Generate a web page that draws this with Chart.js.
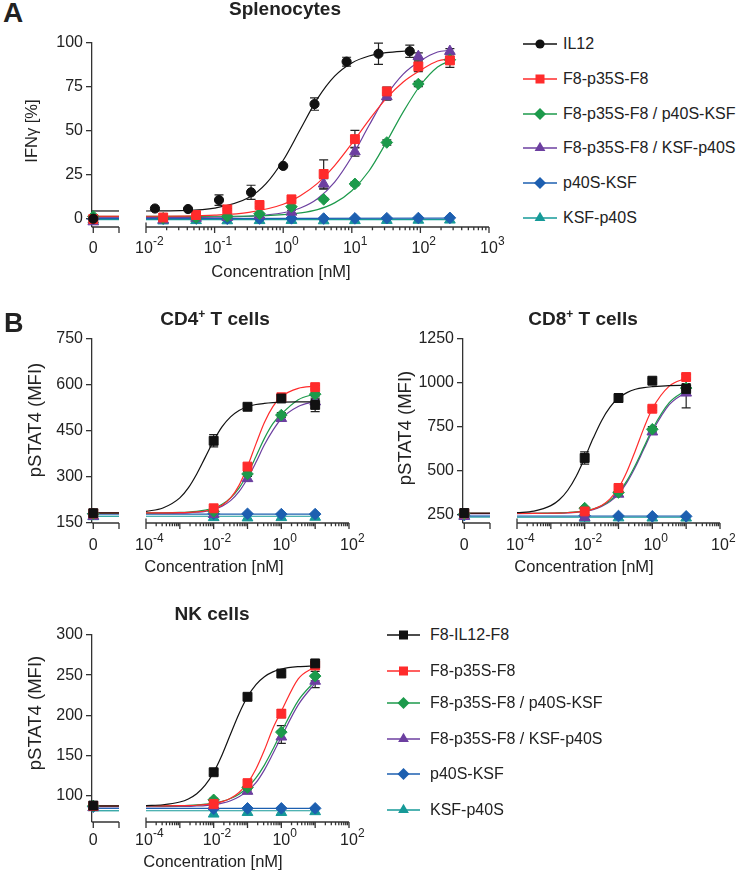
<!DOCTYPE html>
<html>
<head>
<meta charset="utf-8">
<script src="https://cdn.jsdelivr.net/npm/chart.js@4.4.0/dist/chart.umd.min.js"></script>
<style>
  body { margin: 0; background: #fff; }
  #page { position: relative; width: 745px; height: 874px; overflow: hidden;
          font-family: "Liberation Sans", Arial, Helvetica, sans-serif; color: #222; }
  #page canvas { position: absolute; }
  .txt { position: absolute; white-space: nowrap; line-height: 1; }
  .letter { font-weight: bold; }
  .ptitle { font-weight: bold; font-size: 19px; transform: translateX(-50%); }
  .ptitle sup { font-size: 12px; line-height: 0; vertical-align: 7px; }
  .xtitle { font-size: 16.5px; transform: translateX(-50%); }
  .ytitle { font-size: 16.5px; transform: translate(-50%, -50%) rotate(-90deg); }
  .ytitle.big { font-size: 18.5px; }
  .leg { position: absolute; height: 20px; display: flex; align-items: center; font-size: 16px; white-space: nowrap; }
</style>
</head>
<body>
<div id="page"></div>
<script>
// ::::: DATA :::::

// Panel A - splenocytes, IFNy [%]
const aConcIL12 = [0.0135, 0.041, 0.116, 0.34, 1.0, 2.86, 8.4, 24.5, 70];
const aConc = [0.0178, 0.0537, 0.153, 0.452, 1.32, 3.89, 11.1, 32.4, 93.3, 269];
const aIL12 = [6.0, 5.7, 10.8, 15.2, 30.2, 65.3, 89.4, 93.9, 95.3];
const aIL12Sem = [0.5, 0.5, 3.0, 4.0, 0.5, 3.5, 2.5, 6.0, 3.5];
const aP35 = [0.9, 2.3, 5.5, 8.0, 11.2, 25.6, 45.4, 72.5, 86.7, 90.1];
const aP35Sem = [0.3, 0.5, 0.5, 1.0, 1.0, 8.0, 5.0, 2.5, 3.0, 4.0];
const aP35P40KSF = [0.5, 0.8, 1.5, 3.0, 7.0, 11.2, 20.0, 43.5, 76.7, 90.5];
const aP35P40KSFSem = [0.3, 0.3, 0.3, 0.5, 0.5, 0.8, 1.0, 1.5, 1.5, 2.0];
const aP35KSFP40 = [-0.5, 0.5, 1.0, 2.0, 4.0, 20.0, 38.3, 69.6, 92.4, 95.3];
const aP35KSFP40Sem = [0.3, 0.3, 0.5, 0.5, 1.0, 3.0, 2.5, 2.0, 2.0, 1.5];
const aP40KSF = [0.2, 0.3, 0.2, 0.3, 0.4, 0.3, 0.4, 0.5, 0.6, 0.7];
const aKSFP40 = [-1.0, -0.8, -0.9, -0.8, -0.7, -0.9, -0.8, -0.7, -0.6, -0.5];
const aAtZero = [0.2, 0.0, 1.5, -1.5, 0.0, -0.5];   // x = 0, series order
const aBaseline = [4.6, 1.6, 1.5, 1.0, 0.3, -0.3];  // fit bottoms over the 0 segment
// fitted curves as they appear in the figure
const aFitConcIL12 = [0.01, 0.0316, 0.1, 0.316, 0.562, 1, 1.78, 3.16, 5.62, 10, 17.8, 31.6, 70];
const aFitIL12 = [4.6, 4.8, 6.2, 12.2, 20.1, 33.4, 51.0, 68.4, 81.2, 88.7, 92.6, 94.5, 95.6];
const aFitConc = [0.01, 0.0316, 0.1, 0.316, 1, 1.78, 3.16, 5.62, 10, 17.8, 31.6, 56.2, 100, 178, 269];
const aFitP35 = [1.6, 1.7, 2.2, 3.8, 8.4, 13.3, 20.3, 30.4, 42.9, 56.2, 68.4, 77.9, 84.5, 89.8, 91.0];
const aFitP35P40KSF = [1.5, 1.5, 1.6, 1.7, 2.5, 3.5, 5.4, 9.2, 16.1, 27.3, 43.4, 60.9, 76.0, 86.4, 89.9];
const aFitP35KSFP40 = [1.0, 1.0, 1.1, 1.6, 3.6, 6.3, 11.6, 21.0, 35.4, 53.1, 69.9, 82.3, 89.9, 94.9, 95.8];
const aFitFlatConc = [0.01, 269];
const aFitP40KSF = [0.3, 0.5];
const aFitKSFP40 = [-0.3, -0.3];
const aYTicks = [0, 25, 50, 75, 100];
const aDecades = [-2, -1, 0, 1, 2, 3];

// Panel B - pSTAT4 (MFI), shared concentrations
const bConc = [0.01, 0.1, 1, 10];
const bFitConc = [0.0001, 0.000316, 0.001, 0.00178, 0.00316, 0.00562, 0.01, 0.0178, 0.0316,
                  0.0562, 0.1, 0.178, 0.316, 0.562, 1, 3.16, 10];
const bFitFlatConc = [0.0001, 10];
const bDecades = [-4, -2, 0, 2];

// CD4+ T cells
const cd4F8IL12 = [418, 529, 556, 535];
const cd4F8IL12Sem = [20, 8, 8, 22];
const cd4P35 = [198, 334, 560, 593];
const cd4P35Sem = [5, 8, 6, 6];
const cd4P35P40KSF = [188, 310, 502, 570];
const cd4P35P40KSFSem = [4, 8, 8, 6];
const cd4P35KSFP40 = [178, 295, 491, 545];
const cd4P35KSFP40Sem = [4, 8, 8, 8];
const cd4P40KSF = [180, 180, 179, 179];
const cd4KSFP40 = [168, 167, 168, 169];
const cd4AtZero = [182, 181, 180, 172, 180, 171];
const cd4Baseline = [183, 183, 182, 181, 179, 172];
const cd4FitF8IL12 = [188, 199, 232, 264.5, 310, 364, 418, 464, 496, 516.8, 529, 536.3, 540, 542.4, 544, 545, 545];
const cd4FitP35 = [183, 183.2, 183.7, 184.5, 186, 189.1, 195.5, 207.7, 231.8, 272.8, 334, 408, 477.8, 529.7, 562, 589, 596];
const cd4FitP35P40KSF = [183.1, 183.4, 184.5, 185.7, 188, 191.9, 199, 211.3, 232, 264, 310, 367, 426, 474, 505, 552, 571];
const cd4FitP35KSFP40 = [181, 181.2, 182, 183, 185, 188, 194, 205, 223, 252, 295, 348, 405, 452, 490, 530, 546];
const cd4FitP40KSF = [179, 179];
const cd4FitKSFP40 = [172, 172];
const cd4YTicks = [150, 300, 450, 600, 750];

// CD8+ T cells
const cd8F8IL12 = [571, 913, 1012, 965];
const cd8F8IL12Sem = [35, 25, 12, 30];
const cd8P35 = [266, 400, 852, 1033];
const cd8P35Sem = [8, 10, 10, 15];
const cd8P35P40KSF = [285, 374, 735, 970];
const cd8P35P40KSFSem = [5, 10, 15, 15];
const cd8P35KSFP40 = [232, 365, 720, 942];
const cd8P35KSFP40Sem = [5, 10, 15, 85];
const cd8P40KSF = [242, 240, 238, 238];
const cd8KSFP40 = [228, 230, 229, 229];
const cd8AtZero = [257, 255, 252, 238, 245, 240];
const cd8Baseline = [256, 255, 255, 253, 240, 234];
const cd8FitF8IL12 = [259, 268, 299, 332.6, 387, 467, 571, 683, 784, 861, 913, 944, 963, 973, 978, 984, 985];
const cd8FitP35 = [255, 255, 256, 256.8, 258.5, 261.6, 268, 279, 300, 337.5, 400, 494, 614, 741.5, 852, 981, 1027];
const cd8FitP35P40KSF = [255, 255.5, 257, 257.7, 260, 263.4, 270, 280, 298, 328, 374, 442, 531, 633, 735, 887, 959];
const cd8FitP35KSFP40 = [254, 254.5, 255, 256, 258, 261, 266, 276, 294, 322, 365, 432, 520, 622, 722, 875, 948];
const cd8FitP40KSF = [240, 240];
const cd8FitKSFP40 = [234, 234];
const cd8YTicks = [250, 500, 750, 1000, 1250];

// NK cells
const nkF8IL12 = [129, 223, 252, 264.6];
const nkF8IL12Sem = [3, 3, 3, 3];
const nkP35 = [89.6, 115.4, 202, 262];
const nkP35Sem = [2, 3, 5, 4];
const nkP35P40KSF = [94.6, 110, 179, 248.8];
const nkP35P40KSFSem = [2, 3, 8, 6];
const nkP35KSFP40 = [87, 105.4, 173, 242.5];
const nkP35KSFP40Sem = [2, 3, 8, 8];
const nkP40KSF = [83.5, 84, 84, 84];
const nkKSFP40 = [77, 79, 79, 80];
const nkAtZero = [87.5, 87, 87, 85, 86, 85];
const nkBaseline = [87, 87, 87, 86, 84, 81];
const nkFitF8IL12 = [87.5, 88.5, 91.9, 95.7, 102.2, 112.8, 129, 150.9, 176.6, 201.9, 223, 238.2, 248, 254, 257.6, 260.6, 261.6];
const nkFitP35 = [87, 87.1, 87.3, 87.5, 87.9, 88.6, 90, 92.3, 96.5, 103.7, 115.4, 133, 156.6, 183.5, 205, 245.4, 260.6];
const nkFitP35P40KSF = [87.1, 87.2, 87.5, 87.8, 88.3, 89.2, 90.5, 92.8, 96.3, 101.7, 110, 121.9, 137.9, 157.6, 179, 218.3, 242.8];
const nkFitP35KSFP40 = [86, 86.1, 86.3, 86.5, 87, 87.5, 88.5, 90.5, 93.5, 98.5, 105.5, 116, 132, 152, 173, 213, 240];
const nkFitP40KSF = [84, 84];
const nkFitKSFP40 = [81, 81];
const nkYTicks = [100, 150, 200, 250, 300];

const legendA = ['IL12', 'F8-p35S-F8', 'F8-p35S-F8 / p40S-KSF', 'F8-p35S-F8 / KSF-p40S', 'p40S-KSF', 'KSF-p40S'];
const legendB = ['F8-IL12-F8', 'F8-p35S-F8', 'F8-p35S-F8 / p40S-KSF', 'F8-p35S-F8 / KSF-p40S', 'p40S-KSF', 'KSF-p40S'];

// ::::: STYLE :::::
const FONT = '"Liberation Sans", Arial, Helvetica, sans-serif';
const INK = '#222';
const AXIS = '#333';
const seriesColors = ['#111111', '#ff2b2b', '#1c9a4b', '#6c3fa0', '#1d5fb0', '#169a98'];
const seriesShapes = ['rect', 'rect', 'rectRot', 'triangle', 'rectRot', 'triangle'];
const markerSize = { circle: 4.6, rect: 6.3, rectRot: 5.8, triangle: 6.2 };

Chart.defaults.font.family = FONT;
const page = document.getElementById('page');

// ::::: PLUGINS :::::
// x axis of each half: the "0" stub or the log axis with 10^n labels
const splitAxis = {
    id: 'splitAxis',
    beforeDatasetsDraw(chart, args, opts) {
        const ctx = chart.ctx;
        const a = chart.chartArea;
        const x = chart.scales.x;
        const yb = a.bottom;
        ctx.save();
        ctx.strokeStyle = AXIS;
        ctx.lineWidth = 1.3;
        ctx.fillStyle = INK;
        ctx.beginPath();
        ctx.moveTo(a.left, yb);
        ctx.lineTo(a.right, yb);
        if (opts.kind === 'zero') {
            const x0 = x.getPixelForValue(0);
            ctx.moveTo(x0, yb); ctx.lineTo(x0, yb + 6);
            ctx.moveTo(a.right, yb); ctx.lineTo(a.right, yb + 6);
            ctx.stroke();
            ctx.font = '16px ' + FONT;
            ctx.textAlign = 'center';
            ctx.fillText('0', x0, yb + opts.drop);
        } else {
            const first = Math.round(Math.log10(x.min));
            const last = Math.round(Math.log10(x.max));
            for (let e = first; e <= last; e++) {
                const px = x.getPixelForValue(Math.pow(10, e));
                ctx.moveTo(px, e === first ? yb - 4.5 : yb);
                ctx.lineTo(px, yb + 6);
                if (e < last) {
                    for (let m = 2; m <= 9; m++) {
                        const mx = x.getPixelForValue(m * Math.pow(10, e));
                        ctx.moveTo(mx, yb);
                        ctx.lineTo(mx, yb + 3.2);
                    }
                }
            }
            ctx.stroke();
            opts.decades.forEach(e => {
                const px = x.getPixelForValue(Math.pow(10, e));
                const ex = String(e);
                const cx = px - (e < 0 ? 2 : 0);
                ctx.font = '16px ' + FONT;
                const w10 = ctx.measureText('10').width;
                ctx.textAlign = 'center';
                ctx.fillText('10', cx, yb + opts.drop);
                ctx.font = '12px ' + FONT;
                ctx.textAlign = 'left';
                ctx.fillText(ex, cx + w10 / 2, yb + opts.drop - 8);
            });
        }
        ctx.restore();
    }
};

// SEM bars, under the markers
const errorBars = {
    id: 'errorBars',
    beforeDatasetsDraw(chart) {
        const ctx = chart.ctx;
        const y = chart.scales.y;
        ctx.save();
        ctx.strokeStyle = INK;
        ctx.lineWidth = 1.2;
        chart.data.datasets.forEach((ds, i) => {
            if (!ds.sem) return;
            chart.getDatasetMeta(i).data.forEach((pt, k) => {
                const s = ds.sem[k];
                if (!s) return;
                const v = ds.data[k].y;
                const y1 = y.getPixelForValue(v - s);
                const y2 = y.getPixelForValue(v + s);
                ctx.beginPath();
                ctx.moveTo(pt.x, y1); ctx.lineTo(pt.x, y2);
                ctx.moveTo(pt.x - 4.5, y1); ctx.lineTo(pt.x + 4.5, y1);
                ctx.moveTo(pt.x - 4.5, y2); ctx.lineTo(pt.x + 4.5, y2);
                ctx.stroke();
            });
        });
        ctx.restore();
    }
};

// ::::: PANEL BUILDER :::::
function buildPanel(p) {
    const padTop = 14, padBottom = 40, yAxisW = 92, side = 22;
    const canvasTop = p.top - padTop;
    const canvasH = p.bottom + padBottom - canvasTop;
    const shapes = seriesShapes.slice();
    shapes[0] = p.firstShape;

    function addCanvas(left, width) {
        const c = document.createElement('canvas');
        c.width = width;
        c.height = canvasH;
        c.style.left = left + 'px';
        c.style.top = canvasTop + 'px';
        page.appendChild(c);
        return c;
    }

    function pointSet(i, xs, ys, sem) {
        return {
            data: xs.map((x, k) => ({ x: x, y: ys[k] })),
            sem: sem || null,
            showLine: false,
            clip: false,
            pointStyle: shapes[i],
            pointRadius: markerSize[shapes[i]],
            pointBackgroundColor: seriesColors[i],
            pointBorderColor: seriesColors[i],
            pointBorderWidth: 1,
            borderColor: seriesColors[i]
        };
    }

    function lineSet(i, xs, ys) {
        return {
            data: xs.map((x, k) => ({ x: x, y: ys[k] })),
            showLine: true,
            pointRadius: 0,
            borderColor: seriesColors[i],
            borderWidth: 1.2,
            cubicInterpolationMode: 'monotone',
            fill: false
        };
    }

    const yShown = {
        type: 'linear', min: p.yMin, max: p.yMax,
        afterBuildTicks: (ax) => { ax.ticks = p.yTicks.map(v => ({ value: v })); },
        afterFit: (ax) => { ax.width = yAxisW; },
        grid: { drawOnChartArea: false, tickLength: 6, color: AXIS, lineWidth: 1.3 },
        border: { display: true, color: AXIS, width: 1.3 },
        ticks: { font: { size: 16, family: FONT }, color: INK, padding: 3, callback: v => String(v) }
    };
    const yHidden = { type: 'linear', min: p.yMin, max: p.yMax, display: false };

    const common = {
        responsive: false,
        animation: false,
        events: [],
        devicePixelRatio: 1,
        plugins: { legend: { display: false }, tooltip: { enabled: false } }
    };

    // left half: y axis + the "0" stub
    const zeroSets = [];
    for (let i = 0; i < 6; i++) zeroSets.push(pointSet(i, [0], [p.atZero[i]]));
    for (let i = 0; i < 6; i++) zeroSets.push(lineSet(i, [-0.05, 1], [p.baseline[i], p.baseline[i]]));
    new Chart(addCanvas(p.axisX - yAxisW, p.zeroRight + 8 - (p.axisX - yAxisW)), {
        type: 'line',
        data: { datasets: zeroSets },
        options: Object.assign({}, common, {
            layout: { padding: { top: padTop, bottom: padBottom, left: 0, right: 8 } },
            scales: { x: { type: 'linear', min: -0.05, max: 1, display: false }, y: yShown },
            plugins: Object.assign({}, common.plugins, { splitAxis: { kind: 'zero', drop: p.drop } })
        }),
        plugins: [splitAxis]
    });

    // right half: log concentration axis
    const logSets = [];
    for (let i = 0; i < 6; i++) logSets.push(pointSet(i, p.conc[i], p.values[i], p.sems[i]));
    for (let i = 0; i < 6; i++) logSets.push(lineSet(i, p.fitConc[i], p.fits[i]));
    new Chart(addCanvas(p.logLeft - side, p.logRight - p.logLeft + 2 * side), {
        type: 'line',
        data: { datasets: logSets },
        options: Object.assign({}, common, {
            layout: { padding: { top: padTop, bottom: padBottom, left: side, right: side } },
            scales: { x: { type: 'logarithmic', min: p.xMin, max: p.xMax, display: false }, y: yHidden },
            plugins: Object.assign({}, common.plugins, { splitAxis: { kind: 'log', drop: p.drop, decades: p.decades } })
        }),
        plugins: [splitAxis, errorBars]
    });
}

// ::::: TEXT + LEGENDS :::::
function addText(cls, html, left, top) {
    const d = document.createElement('div');
    d.className = 'txt ' + cls;
    d.innerHTML = html;
    d.style.left = left + 'px';
    d.style.top = top + 'px';
    page.appendChild(d);
    return d;
}

function markerSvg(shape, color, cx, lineFrom, lineTo) {
    let m = '';
    if (shape === 'circle') m = `<circle cx="${cx}" cy="8" r="4.6" fill="${color}"/>`;
    if (shape === 'rect') m = `<rect x="${cx - 4.5}" y="3.5" width="9" height="9" fill="${color}"/>`;
    if (shape === 'rectRot') m = `<polygon points="${cx},2 ${cx + 6},8 ${cx},14 ${cx - 6},8" fill="${color}"/>`;
    if (shape === 'triangle') m = `<polygon points="${cx},1.8 ${cx + 5.4},11.1 ${cx - 5.4},11.1" fill="${color}"/>`;
    return `<svg width="${lineTo + 2}" height="16" style="display:block">` +
           `<line x1="${lineFrom}" y1="8" x2="${lineTo}" y2="8" stroke="${color}" stroke-width="1.3"/>${m}</svg>`;
}

function addLegend(labels, firstShape, left, centers, lineLen, gap) {
    labels.forEach((lab, i) => {
        const shape = i === 0 ? firstShape : seriesShapes[i];
        const row = document.createElement('div');
        row.className = 'leg';
        row.style.left = left + 'px';
        row.style.top = (centers[i] - 10) + 'px';
        row.innerHTML = markerSvg(shape, seriesColors[i], 2 + lineLen / 2, 2, 2 + lineLen) +
                        `<span style="margin-left:${gap}px">${lab}</span>`;
        page.appendChild(row);
    });
}

// ::::: BUILD :::::
buildPanel({
    top: 43, bottom: 227, axisX: 92, zeroRight: 119, logLeft: 146, logRight: 489,
    yMin: -4.5, yMax: 100, yTicks: aYTicks, xMin: 0.01, xMax: 1000, decades: aDecades, drop: 26,
    firstShape: 'circle',
    conc: [aConcIL12, aConc, aConc, aConc, aConc, aConc],
    values: [aIL12, aP35, aP35P40KSF, aP35KSFP40, aP40KSF, aKSFP40],
    sems: [aIL12Sem, aP35Sem, aP35P40KSFSem, aP35KSFP40Sem, null, null],
    fitConc: [aFitConcIL12, aFitConc, aFitConc, aFitConc, aFitFlatConc, aFitFlatConc],
    fits: [aFitIL12, aFitP35, aFitP35P40KSF, aFitP35KSFP40, aFitP40KSF, aFitKSFP40],
    atZero: aAtZero, baseline: aBaseline
});

buildPanel({
    top: 339, bottom: 523, axisX: 92, zeroRight: 119, logLeft: 146, logRight: 349,
    yMin: 150, yMax: 750, yTicks: cd4YTicks, xMin: 0.0001, xMax: 100, decades: bDecades, drop: 26.5,
    firstShape: 'rect',
    conc: [bConc, bConc, bConc, bConc, bConc, bConc],
    values: [cd4F8IL12, cd4P35, cd4P35P40KSF, cd4P35KSFP40, cd4P40KSF, cd4KSFP40],
    sems: [cd4F8IL12Sem, cd4P35Sem, cd4P35P40KSFSem, cd4P35KSFP40Sem, null, null],
    fitConc: [bFitConc, bFitConc, bFitConc, bFitConc, bFitFlatConc, bFitFlatConc],
    fits: [cd4FitF8IL12, cd4FitP35, cd4FitP35P40KSF, cd4FitP35KSFP40, cd4FitP40KSF, cd4FitKSFP40],
    atZero: cd4AtZero, baseline: cd4Baseline
});

buildPanel({
    top: 339, bottom: 523, axisX: 463, zeroRight: 490, logLeft: 517, logRight: 720,
    yMin: 200, yMax: 1250, yTicks: cd8YTicks, xMin: 0.0001, xMax: 100, decades: bDecades, drop: 26.5,
    firstShape: 'rect',
    conc: [bConc, bConc, bConc, bConc, bConc, bConc],
    values: [cd8F8IL12, cd8P35, cd8P35P40KSF, cd8P35KSFP40, cd8P40KSF, cd8KSFP40],
    sems: [cd8F8IL12Sem, cd8P35Sem, cd8P35P40KSFSem, cd8P35KSFP40Sem, null, null],
    fitConc: [bFitConc, bFitConc, bFitConc, bFitConc, bFitFlatConc, bFitFlatConc],
    fits: [cd8FitF8IL12, cd8FitP35, cd8FitP35P40KSF, cd8FitP35KSFP40, cd8FitP40KSF, cd8FitKSFP40],
    atZero: cd8AtZero, baseline: cd8Baseline
});

buildPanel({
    top: 635, bottom: 822, axisX: 92, zeroRight: 119, logLeft: 146, logRight: 349,
    yMin: 67, yMax: 300, yTicks: nkYTicks, xMin: 0.0001, xMax: 100, decades: bDecades, drop: 23,
    firstShape: 'rect',
    conc: [bConc, bConc, bConc, bConc, bConc, bConc],
    values: [nkF8IL12, nkP35, nkP35P40KSF, nkP35KSFP40, nkP40KSF, nkKSFP40],
    sems: [nkF8IL12Sem, nkP35Sem, nkP35P40KSFSem, nkP35KSFP40Sem, null, null],
    fitConc: [bFitConc, bFitConc, bFitConc, bFitConc, bFitFlatConc, bFitFlatConc],
    fits: [nkFitF8IL12, nkFitP35, nkFitP35P40KSF, nkFitP35KSFP40, nkFitP40KSF, nkFitKSFP40],
    atZero: nkAtZero, baseline: nkBaseline
});

// panel letters and titles
addText('letter', 'A', 3, -0.7).style.fontSize = '28px';
addText('letter', 'B', 4, 310).style.fontSize = '27px';
addText('ptitle', 'Splenocytes', 285, -1);
addText('ptitle', 'CD4<sup>+</sup> T cells', 215, 309);
addText('ptitle', 'CD8<sup>+</sup> T cells', 583, 309);
addText('ptitle', 'NK cells', 212, 604);

// axis titles
addText('xtitle', 'Concentration [nM]', 281, 263);
addText('xtitle', 'Concentration [nM]', 214, 558);
addText('xtitle', 'Concentration [nM]', 584, 558);
addText('xtitle', 'Concentration [nM]', 213, 853);
addText('ytitle', 'IFNγ [%]', 31, 131);
addText('ytitle big', 'pSTAT4 (MFI)', 35, 420);
addText('ytitle big', 'pSTAT4 (MFI)', 405, 428);
addText('ytitle big', 'pSTAT4 (MFI)', 35, 713);

// legends
addLegend(legendA, 'circle', 521, [44, 79, 113.5, 148, 183, 218], 34, 4);
addLegend(legendB, 'rect', 385, [635, 670.5, 703, 738.5, 774, 809.5], 33, 8);
</script>
</body>
</html>
